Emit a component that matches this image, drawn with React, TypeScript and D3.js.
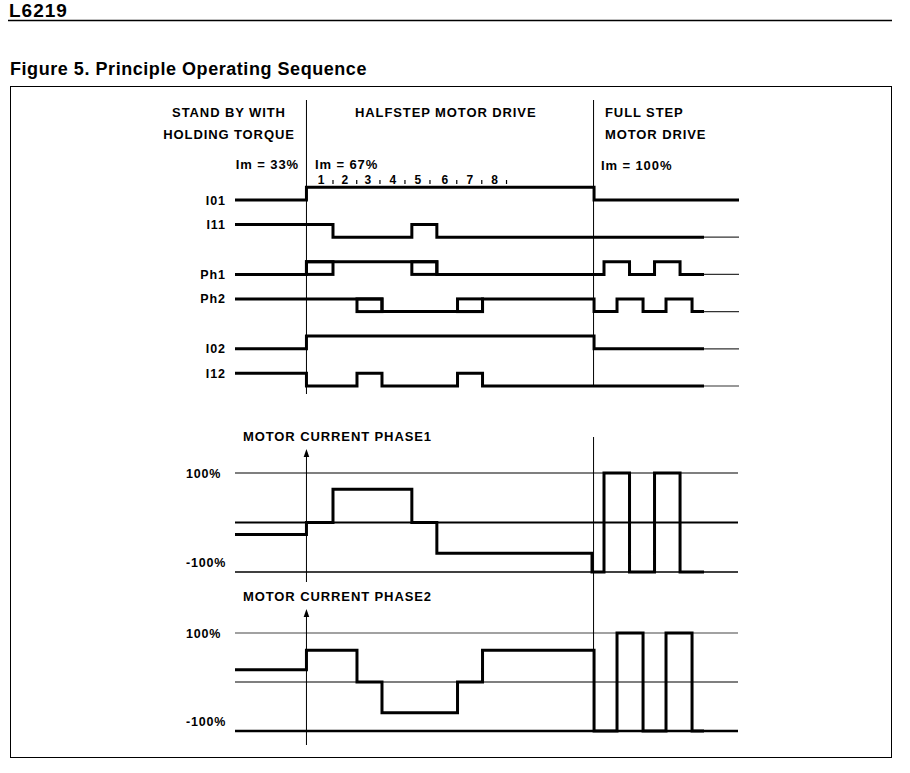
import React, { useEffect } from 'react'
import * as d3 from 'd3'

// Time axis in halfstep units, 0 = start of the halfstep drive
const T_START = -2.8
const T_END = 16.95
const T_FULL = 11.27
const T_THICK_END = 15.58

// Logic signals, change points [t, level]
const signalNames = ['I01', 'I11', 'Ph1', 'Ph2', 'I02', 'I12']
const I01 = [[-2.8, 0], [0, 1], [11.27, 0]]
const I11 = [[-2.8, 1], [1.04, 0], [4.13, 1], [5.11, 0]]
const Ph1 = [[-2.8, 0], [0, 1], [5.11, 0], [11.66, 1], [12.66, 0], [13.64, 1], [14.64, 0]]
const Ph2 = [[-2.8, 1], [2.96, 0], [6.9, 1], [11.27, 0], [12.17, 1], [13.19, 0], [14.09, 1], [15.11, 0]]
const I02 = [[-2.8, 0], [0, 1], [11.27, 0]]
const I12 = [[-2.8, 1], [0, 0], [1.98, 1], [2.96, 0], [5.92, 1], [6.9, 0]]
const signalData = [I01, I11, Ph1, Ph2, I02, I12]
const signalEnds = [16.95, 15.58, 15.58, 15.58, 15.58, 15.58]
// intervals where the phase bit does not matter (drawn as boxes)
const signalBoxes = [[], [], [[0, 1.04], [4.13, 5.11]], [[1.98, 2.96], [5.92, 6.9]], [], []]

// Motor currents, fraction of full current
const phase1 = [[-2.8, -0.24], [0, 0], [1.04, 0.67], [4.13, 0], [5.11, -0.62], [11.19, -1], [11.66, 1], [12.66, -1], [13.64, 1], [14.64, -1]]
const phase2 = [[-2.8, 0.25], [0, 0.65], [1.98, 0], [2.96, -0.63], [5.92, 0], [6.9, 0.65], [11.27, -1], [12.17, 1], [13.19, -1], [14.09, 1], [15.11, -1]]
const currentTitles = ['MOTOR CURRENT PHASE1', 'MOTOR CURRENT PHASE2']
const currentLevels = [1, 0, -1]
const currentLabels = ['100%', '', '-100%']

const stepNumbers = ['1', '2', '3', '4', '5', '6', '7', '8']
const stepTicks = [1.04, 1.97, 2.88, 3.86, 4.84, 5.89, 6.87, 7.84]

const FONT = "'Liberation Sans', Arial, Helvetica, sans-serif"

export default function App() {
  useEffect(() => {
    document.body.style.margin = '0'
  }, [])

  const x = d3.scaleLinear().domain([T_START, T_END]).range([235, 739])
  const rowY = d3.scalePoint().domain(signalNames).range([200, 386])
  const level = d3.scaleLinear().domain([0, 1]).range([0, -12.7])
  const panels = [
    { y: d3.scaleLinear().domain([-1, 1]).range([572, 473]), data: phase1,
      grid: [{ c: '#555', w: 1.3 }, { c: '#000', w: 2 }, { c: '#000', w: 1.5 }] },
    { y: d3.scaleLinear().domain([-1, 1]).range([731, 633]), data: phase2,
      grid: [{ c: '#444', w: 1.2 }, { c: '#555', w: 1.4 }, { c: '#000', w: 2.5 }] },
  ]

  const stepPath = (pts: number[][], end: number, yf: (v: number) => number) => {
    const last = pts[pts.length - 1][1]
    return d3.line<number[]>()
      .curve(d3.curveStepAfter)
      .x(d => x(d[0]))
      .y(d => yf(d[1]))([...pts, [end, last]]) as string
  }

  const hdr = { fontFamily: FONT, fontWeight: 700, fontSize: 13, letterSpacing: 0.9 } as const
  const lbl = { fontFamily: FONT, fontWeight: 700, fontSize: 12.5, letterSpacing: 0.9 } as const

  return (
    <svg width={910} height={773} style={{ display: 'block', position: 'absolute', left: 0, top: 0, background: '#fff' }}>
      {/* page header */}
      <text x={9} y={17} fontFamily={FONT} fontWeight={700} fontSize={19} letterSpacing={1}>L6219</text>
      <line x1={8} x2={892} y1={20.5} y2={20.5} stroke="#000" strokeWidth={1.3} />
      <text x={10} y={75} fontFamily={FONT} fontWeight={700} fontSize={18} letterSpacing={0.55}>Figure 5. Principle Operating Sequence</text>
      <rect x={10.5} y={86.5} width={881} height={671} fill="none" stroke="#000" strokeWidth={1} />

      {/* section headings */}
      <text {...hdr} x={229} y={117} textAnchor="middle">STAND BY WITH</text>
      <text {...hdr} x={229} y={139} textAnchor="middle">HOLDING TORQUE</text>
      <text {...hdr} x={355} y={117}>HALFSTEP MOTOR DRIVE</text>
      <text {...hdr} x={605} y={117}>FULL STEP</text>
      <text {...hdr} x={605} y={139}>MOTOR DRIVE</text>
      <text {...hdr} x={299} y={168.5} textAnchor="end">Im = 33%</text>
      <text {...hdr} x={315} y={168.5}>Im = 67%</text>
      <text {...hdr} x={601} y={169.5}>Im = 100%</text>

      {stepNumbers.map((n, i) => (
        <text key={n} {...hdr} fontSize={12} letterSpacing={0} x={x(stepTicks[i]) - 12} y={183.5} textAnchor="middle">{n}</text>
      ))}
      {stepTicks.map(t => (
        <line key={t} x1={x(t)} x2={x(t)} y1={180} y2={184} stroke="#000" strokeWidth={1.2} />
      ))}

      {/* dividers */}
      <line x1={x(0)} x2={x(0)} y1={100} y2={394} stroke="#000" strokeWidth={1} />
      <line x1={x(T_FULL) - 0.5} x2={x(T_FULL) - 0.5} y1={100} y2={386} stroke="#000" strokeWidth={1} />

      {/* logic signals */}
      {signalNames.map((name, i) => {
        const base = rowY(name) as number
        const yf = (v: number) => base + level(v)
        const pts = signalData[i]
        const end = signalEnds[i]
        const last = pts[pts.length - 1][1]
        return (
          <g key={name}>
            <text {...lbl} x={225 + 0.9} y={yf(pts[0][1]) + 4.5} textAnchor="end">{name}</text>
            <path d={stepPath(pts, end, yf)} fill="none" stroke="#000" strokeWidth={3} />
            {signalBoxes[i].map(b => (
              <rect key={b[0]} x={x(b[0])} y={yf(1)} width={x(b[1]) - x(b[0])} height={yf(0) - yf(1)}
                fill="none" stroke="#000" strokeWidth={3} />
            ))}
            {end < T_END && (
              <line x1={x(end)} x2={x(T_END)} y1={yf(last)} y2={yf(last)} stroke="#333" strokeWidth={1.2} />
            )}
          </g>
        )
      })}

      {/* motor currents */}
      {panels.map((p, k) => {
        const top = p.y(1)
        return (
          <g key={k}>
            <text {...hdr} x={243} y={top - 32.5}>{currentTitles[k]}</text>
            {currentLevels.map((v, j) => (
              <line key={v} x1={x(T_START)} x2={x(T_END) - 1} y1={p.y(v)} y2={p.y(v)}
                stroke={p.grid[j].c} strokeWidth={p.grid[j].w} />
            ))}
            {currentLabels.map((s, j) => s && (
              <text key={s} {...lbl} letterSpacing={0.8} x={186} y={p.y(currentLevels[j]) + (currentLevels[j] < 0 ? -5 : 4.5)}>{s}</text>
            ))}
            <line x1={x(0)} x2={x(0)} y1={top - 17} y2={p.y(-1) + (k === 0 ? 10 : 14)} stroke="#000" strokeWidth={1} />
            <path d={`M${x(0) - 2.8},${top - 16} L${x(0)},${top - 24} L${x(0) + 2.8},${top - 16} Z`} fill="#000" />
            <path d={stepPath(p.data, T_THICK_END, p.y)} fill="none" stroke="#000" strokeWidth={3} />
          </g>
        )
      })}
      {/* fullstep divider through the current plots */}
      <line x1={x(T_FULL) - 0.5} x2={x(T_FULL) - 0.5} y1={437} y2={731} stroke="#000" strokeWidth={1} />
    </svg>
  )
}
